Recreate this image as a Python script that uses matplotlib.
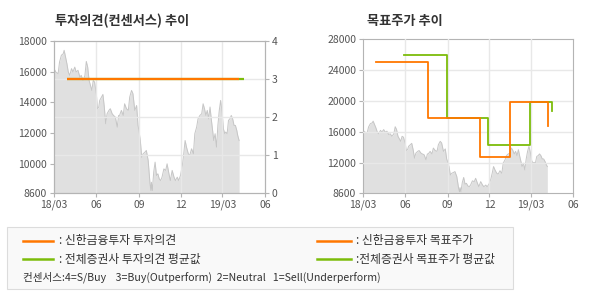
import matplotlib
matplotlib.use('Agg')
import matplotlib.pyplot as plt
from matplotlib.patches import Rectangle
from matplotlib.lines import Line2D

plt.rcParams['font.family'] = ['Noto Sans CJK KR', 'DejaVu Sans']

# days since 2018-03-01
price_day = [0, 4, 9, 12, 16, 20, 22, 25, 28, 31, 34, 38, 41, 45, 48, 52, 56, 59, 63, 67,
             70, 73, 76, 79, 82, 85, 88, 92, 94, 97, 99, 103, 106, 109, 112, 115, 119, 122, 126, 129,
             133, 137, 140, 142, 146, 150, 153, 157, 161, 164, 168, 171, 175, 179, 182, 184, 187, 190, 193, 197,
             200, 204, 208, 210, 211, 213, 216, 219, 222, 225, 228, 231, 234, 238, 242, 245, 249, 252, 256, 260,
             263, 267, 270, 274, 278, 281, 284, 287, 291, 294, 298, 302, 305, 309, 312, 316, 320, 323, 326, 329,
             332, 335, 338, 341, 344, 346, 349, 352, 355, 358, 361, 364, 367, 370, 372, 375, 378, 381, 384, 387,
             390, 393, 396, 398, 401]
price = [16200, 15980, 15870, 16630, 17070, 17170, 17390, 16960, 16520, 15980,
         15760, 16200, 15980, 16300, 15980, 16090, 15650, 15760, 15430, 15760,
         16670, 16300, 15430, 15110, 14780, 15430, 15320, 14460, 13590, 13700,
         14130, 14350, 14520, 13700, 12610, 13260, 13480, 13590, 13260, 13150,
         13040, 12390, 13150, 13150, 13480, 13150, 13910, 13590, 13480, 14350,
         14780, 14570, 13480, 13800, 12500, 12170, 11520, 10430, 10650, 10760,
         10870, 10220, 8700, 8260, 8800, 8260, 9460, 10110, 9240, 9350,
         9020, 8910, 9130, 9670, 9570, 10000, 9350, 8910, 9570, 9130,
         8910, 9130, 8910, 9240, 9890, 10650, 11520, 11090, 10650, 10540,
         10980, 10650, 11960, 12390, 12930, 13150, 13260, 13910, 13590, 13150,
         13480, 12930, 13700, 12830, 12070, 11520, 11960, 11090, 12500, 13480,
         14130, 13370, 12280, 11960, 12070, 11960, 12830, 12930, 13150, 12930,
         12500, 12500, 12170, 11850, 11520]

# investment opinion (3 = Buy)
opinion_day = [29, 401]
opinion = [3, 3]
avg_opinion_day = [29, 411]
avg_opinion = [3, 3]

# target prices (steps)
target_day = [29, 141, 255, 319, 403]
target = [25000, 17800, 12800, 19900, 16800]
avg_target_day = [89, 182, 273, 363, 411]
avg_target = [26000, 17800, 14300, 19900, 18700]

xtick_day = [0, 92, 184, 275, 365, 457]
xtick_labels = ['18/03', '06', '09', '12', '19/03', '06']
left_ticks = [8100, 10000, 12000, 14000, 16000, 18000]
left_labels = ['8600', '10000', '12000', '14000', '16000', '18000']
right_ticks = [8100, 12000, 16000, 20000, 24000, 28000]
right_labels = ['8600', '12000', '16000', '20000', '24000', '28000']

ORANGE = '#ff7700'
GREEN = '#7cbc0a'
FILL = '#e0e0e0'
EDGE = '#c6c6c6'
GRID = '#e8e8e8'
SPINE = '#b4b4b4'
TXT = '#555555'


def style(ax):
    for s in ax.spines.values():
        s.set_color(SPINE)
        s.set_linewidth(0.8)
    ax.tick_params(colors=SPINE, labelcolor=TXT, labelsize=7.5, length=3, width=0.8, pad=2)
    ax.set_xlim(0, 457)
    ax.set_xticks(xtick_day)
    ax.set_xticklabels(xtick_labels)


fig = plt.figure(figsize=(5.9, 3.0), dpi=100)

# left: opinion chart
ax1 = fig.add_axes([0.0915, 0.3567, 0.3576, 0.5067])
ax1.fill_between(price_day, 0, price, color=FILL, lw=0, zorder=1)
ax1.plot(price_day, price, color=EDGE, lw=0.7, zorder=2)
ax1.set_ylim(8100, 18000)
ax1.set_yticks(left_ticks)
ax1.set_yticklabels(left_labels)
for d in xtick_day[1:-1]:
    ax1.axvline(d, color=GRID, lw=1, zorder=3)
style(ax1)

ax1b = ax1.twinx()
ax1b.set_ylim(0, 4)
ax1b.set_yticks([0, 1, 2, 3, 4])
for v in [1, 2, 3]:
    ax1b.axhline(v, color=GRID, lw=1, zorder=0)
ax1b.plot(avg_opinion_day, avg_opinion, color=GREEN, lw=1.6, solid_capstyle='butt')
ax1b.plot(opinion_day, opinion, color=ORANGE, lw=1.6, solid_capstyle='butt')
style(ax1b)

# right: target price chart
ax2 = fig.add_axes([0.6153, 0.3567, 0.356, 0.513])
ax2.fill_between(price_day, 0, price, color=FILL, lw=0, zorder=1)
ax2.plot(price_day, price, color=EDGE, lw=0.7, zorder=2)
ax2.set_ylim(8100, 28000)
ax2.set_yticks(right_ticks)
ax2.set_yticklabels(right_labels)
for d in xtick_day[1:-1]:
    ax2.axvline(d, color=GRID, lw=1, zorder=3)
for v in right_ticks[1:-1]:
    ax2.axhline(v, color=GRID, lw=1, zorder=3)
ax2.plot(avg_target_day, avg_target, color=GREEN, lw=1.3, drawstyle='steps-post', zorder=4)
ax2.plot(target_day, target, color=ORANGE, lw=1.3, drawstyle='steps-post', zorder=5)
style(ax2)

# titles
fig.text(0.093, 0.93, '투자의견(컨센서스) 추이', fontsize=9.5, fontweight='bold', color='#333333', va='center')
fig.text(0.622, 0.93, '목표주가 추이', fontsize=9.5, fontweight='bold', color='#333333', va='center')

# legend box
fig.patches.append(Rectangle((0.0119, 0.0367), 0.8576, 0.2067, transform=fig.transFigure,
                             facecolor='#f9f9f9', edgecolor='#dcdcdc', lw=0.8))
rows = [0.1967, 0.1367]
fig.lines.append(Line2D([0.039, 0.0898], [rows[0]] * 2, transform=fig.transFigure, color=ORANGE, lw=1.8))
fig.lines.append(Line2D([0.039, 0.0898], [rows[1]] * 2, transform=fig.transFigure, color=GREEN, lw=1.8))
fig.lines.append(Line2D([0.537, 0.595], [rows[0]] * 2, transform=fig.transFigure, color=ORANGE, lw=1.8))
fig.lines.append(Line2D([0.537, 0.595], [rows[1]] * 2, transform=fig.transFigure, color=GREEN, lw=1.8))
lkw = dict(fontsize=8.5, color='#333333', va='center')
fig.text(0.1, rows[0], ': 신한금융투자 투자의견', **lkw)
fig.text(0.1, rows[1], ': 전체증권사 투자의견 평균값', **lkw)
fig.text(0.604, rows[0], ': 신한금융투자 목표주가', **lkw)
fig.text(0.604, rows[1], ':전체증권사 목표주가 평균값', **lkw)
fig.text(0.039, 0.0767, '컨센서스:4=S/Buy    3=Buy(Outperform)  2=Neutral   1=Sell(Underperform)',
         fontsize=7.6, color='#333333', va='center')

fig.savefig('out.png', dpi=100)
